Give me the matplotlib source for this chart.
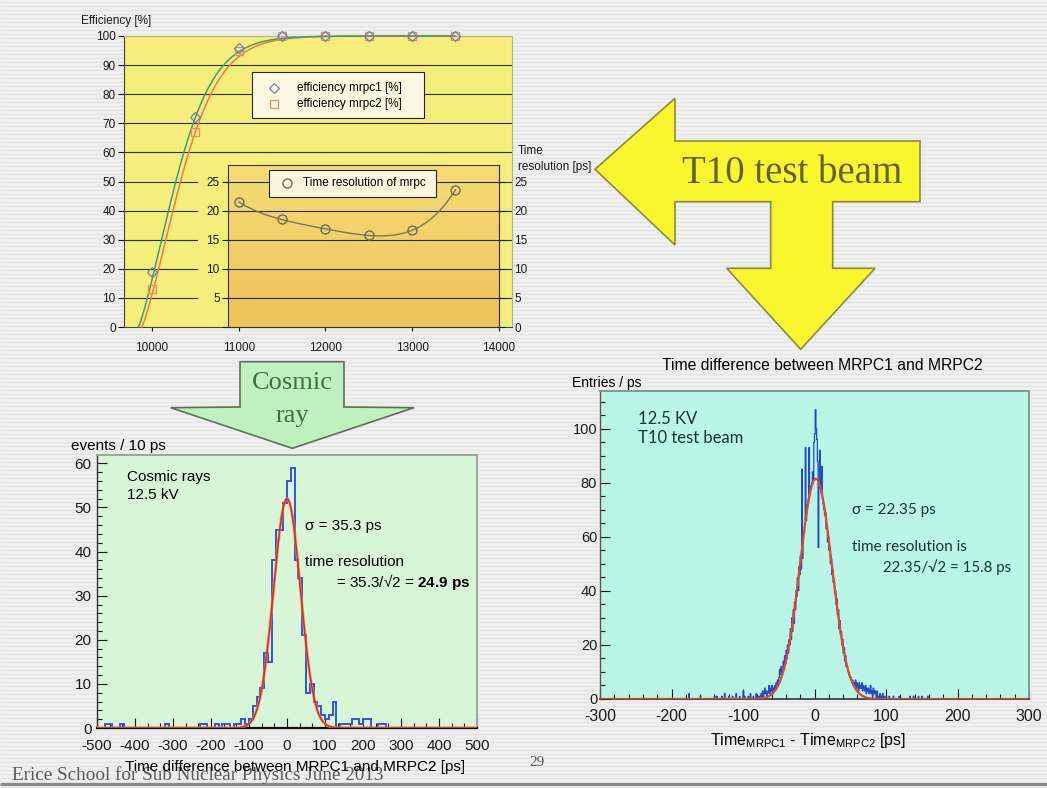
import numpy as np
import matplotlib
matplotlib.use("Agg")
import matplotlib.pyplot as plt
from matplotlib.patches import Polygon, Rectangle
from matplotlib.colors import LinearSegmentedColormap
from matplotlib.ticker import MultipleLocator
from numpy.polynomial import Polynomial

plt.rcParams["font.family"] = ["Liberation Sans", "DejaVu Sans"]
plt.rcParams["axes.unicode_minus"] = False
plt.rcParams["mathtext.fontset"] = "custom"
plt.rcParams["mathtext.rm"] = "Liberation Sans"
plt.rcParams["mathtext.bf"] = "Liberation Sans:bold"
plt.rcParams["mathtext.it"] = "Liberation Sans:italic"

# ---- HV scan at T10: efficiency and time resolution ----
HV = [10000, 10500, 11000, 11500, 12000, 12500, 13000, 13500]
EFF_MRPC1 = [19, 72, 96, 100, 100, 100, 100, 100]
EFF_MRPC2 = [13, 67, 95, 100, 100, 100, 100, 100]
# turn-on fits: eff = 100 * tanh(((HV - v0) / lam) ** k)
FIT_MRPC1 = (9842, 713, 1.2)
FIT_MRPC2 = (9881, 737, 1.2)
HV_RES = [11000, 11500, 12000, 12500, 13000, 13500]
TIME_RES = [21.5, 18.5, 16.8, 15.8, 16.6, 23.6]

# ---- cosmic rays: MRPC1 - MRPC2, 10 ps bins from -500 to 500 ----
COSMIC_EDGES = np.arange(-500, 501, 10)
COSMIC_COUNTS = [
    0, 0, 1, 1, 0, 0, 1, 0, 0, 0,
    0, 0, 0, 0, 0, 0, 0, 0, 1, 0,
    0, 0, 0, 0, 0, 0, 0, 1, 1, 0,
    0, 1, 0, 1, 1, 0, 1, 1, 2, 1,
    2, 5, 7, 9, 17, 15, 38, 45, 45, 51,
    56, 59, 38, 34, 21, 8, 10, 6, 5, 3,
    2, 3, 6, 0, 1, 1, 1, 2, 2, 1,
    2, 2, 0, 0, 1, 1, 0, 0, 0, 0,
    0, 0, 0, 0, 0, 0, 0, 0, 0, 0,
    0, 0, 0, 0, 0, 0, 0, 0, 0, 0,
]
COSMIC_FIT = (52.0, 0.0, 35.3)  # amplitude, mean, sigma [ps]

# ---- T10 beam: MRPC1 - MRPC2, 1 ps bins ----
T10_CORE_START = -75
T10_CORE = [
    2, 1, 3, 1, 2, 4, 2, 3, 1, 2,
    3, 5, 2, 4, 3, 5, 2, 4, 3, 5,
    4, 6, 5, 7, 6, 8, 11, 9, 12, 10,
    10, 14, 11, 16, 13, 18, 15, 20, 17, 22,
    20, 26, 22, 30, 25, 33, 28, 36, 33, 40,
    38, 45, 40, 49, 46, 53, 48, 85, 52, 61,
    61, 65, 93, 66, 70, 72, 74, 93, 76, 78,
    79, 80, 84, 81, 95, 98, 107, 100, 96, 88,
    56, 78, 92, 80, 76, 86, 74, 72, 70, 68,
    69, 63, 64, 58, 60, 55, 56, 50, 52, 46,
    48, 43, 44, 39, 40, 35, 37, 31, 33, 26,
    29, 24, 25, 20, 22, 17, 19, 14, 16, 12,
    12, 11, 10, 9, 8, 8, 7, 6, 7, 5,
    6, 5, 7, 4, 6, 5, 3, 6, 4, 5,
    4, 6, 3, 5, 4, 3, 5, 2, 4, 3,
    4, 2, 3, 5, 2, 3, 1, 4, 2, 3,
]
T10_TAIL_LO = [-176, -160, -140, -137, -130, -126, -120, -115, -110, -105,
               -100, -98, -93, -90, -86, -82, -79, -77,
               85, 87, 89, 91, 93, 95, 97, 100, 104, 110, 118, 133, 138, 145, 150, 158]
T10_TAIL_N = [2, 1, 1, 1, 1, 2, 1, 1, 2, 1, 3, 1, 1, 2, 1, 2, 1, 1,
              2, 3, 1, 2, 1, 2, 1, 1, 1, 1, 1, 1, 1, 1, 1, 1]
T10_FIT = (81.5, 2.0, 22.35)


def gauss(x, amp, mu, sig):
    return amp * np.exp(-0.5 * ((x - mu) / sig) ** 2)


def turn_on(v, v0, lam, k):
    return 100 * np.tanh(np.clip((v - v0) / lam, 0, None) ** k)


W, H = 1047, 788
SLIDE = "#efefef"
fig = plt.figure(figsize=(W / 100, H / 100), dpi=100, facecolor=SLIDE)


def px(l, t, r, b):
    # axes rectangle from pixel edges (origin top-left)
    return [l / W, 1 - b / H, (r - l) / W, (b - t) / H]


bg = fig.add_axes([0, 0, 1, 1], zorder=0)
bg.set_xlim(0, W); bg.set_ylim(H, 0); bg.axis("off")
bg.hlines(np.arange(2, H, 4), 0, W, color="#e5e5e5", lw=0.8)
bg.hlines([784], 0, W, color="#8a8a8a", lw=2.2)

ov = fig.add_axes([0, 0, 1, 1], zorder=10)
ov.set_xlim(0, W); ov.set_ylim(H, 0); ov.axis("off")

# ================= efficiency vs HV =================
YEL = "#f6ee7a"
C1, C2 = "#6f7fb0", "#e98a6a"
L1, L2 = "#3e9d78", "#ef7c40"
X0, X1 = 9677, 14152

ax = fig.add_axes(px(124, 36, 512, 327), zorder=2)
ax.set_facecolor(YEL)
ax.set_xlim(X0, X1); ax.set_ylim(0, 100)
ax.set_xticks(range(10000, 14001, 1000))
ax.set_yticks(range(0, 101, 10))
ax.tick_params(labelsize=8.5, width=0.8, colors="#1a1a1a")
ax.tick_params(axis="x", length=3, pad=8)
ax.tick_params(axis="y", length=4, pad=2)
ax.hlines(range(10, 100, 10), X0, X1, color="#2b2b2b", lw=0.8, zorder=1)
ax.add_patch(Rectangle((10531, 0), 10877 - 10531, 55.7, fc=YEL, ec="none", zorder=1.5))
for s in ("top", "right"):
    ax.spines[s].set_color("#b3b08e")
for s in ("left", "bottom"):
    ax.spines[s].set_color("#444")
    ax.spines[s].set_linewidth(0.8)

for fit, col in ((FIT_MRPC2, L2), (FIT_MRPC1, L1)):
    v = np.linspace(fit[0], 13500, 500)
    ax.plot(v, turn_on(v, *fit), color=col, lw=1.1, zorder=3, clip_on=False)
ax.plot(HV, EFF_MRPC2, ls="none", marker="s", ms=5.8, mfc="none", mec=C2, mew=0.9,
        zorder=4, clip_on=False)
ax.plot(HV, EFF_MRPC1, ls="none", marker="D", ms=4.6, mfc="none", mec=C1, mew=0.9,
        zorder=5, clip_on=False)

# inset: time resolution vs HV
RMAX = 27.85
axi = fig.add_axes(px(228, 165, 498.8, 327), zorder=3)
grad = LinearSegmentedColormap.from_list("inset", ["#eec35a", "#f5dc74"])
axi.imshow(np.linspace(0, 1, 64)[:, None], extent=(10877, 14000, 0, RMAX),
           origin="lower", aspect="auto", cmap=grad, zorder=0)
axi.set_xlim(10877, 14000); axi.set_ylim(0, RMAX)
axi.hlines(range(5, 26, 5), 10877, 14000, color="#2b2b2b", lw=0.8, zorder=1)
axi.set_xticks([])
axi.set_yticks(range(0, 26, 5))
axi.tick_params(axis="y", labelsize=8.5, length=4, width=0.8, pad=2, colors="#1a1a1a")
axi.yaxis.get_major_ticks()[0].label1.set_visible(False)
res_right = axi.secondary_yaxis("right")
res_right.set_yticks(range(0, 26, 5))
res_right.tick_params(labelsize=8.5, length=4, width=0.8, pad=7, colors="#1a1a1a")
res_right.spines["right"].set_color("#333")
res_right.spines["right"].set_linewidth(0.8)
for s in axi.spines.values():
    s.set_color("#333"); s.set_linewidth(0.8)
fit_res = Polynomial.fit(HV_RES, TIME_RES, 4)
v = np.linspace(11000, 13500, 300)
axi.plot(v, fit_res(v), color="#7a7758", lw=1.0, zorder=2)
axi.plot(HV_RES, TIME_RES, ls="none", marker="o", ms=6.5, mfc="none", mec="#6d6b5e",
         mew=1.0, zorder=3, clip_on=False)

ov.text(81, 20.5, "Efficiency [%]", fontsize=8.5, va="center", color="#1a1a1a")
ov.text(518, 151, "Time", fontsize=8.5, va="center", color="#1a1a1a")
ov.text(518, 167, "resolution [ps]", fontsize=8.5, va="center", color="#1a1a1a")

# legends
ov.add_patch(Rectangle((252, 72), 172, 46, fc="#fcf9e2", ec="#222", lw=0.8))
ov.plot([274], [87.5], ls="none", marker="D", ms=4.6, mfc="none", mec=C1, mew=0.9)
ov.plot([274], [103.5], ls="none", marker="s", ms=5.8, mfc="none", mec=C2, mew=0.9)
ov.text(297, 87.5, "efficiency mrpc1 [%]", fontsize=8.5, va="center")
ov.text(297, 103.5, "efficiency mrpc2 [%]", fontsize=8.5, va="center")
ov.add_patch(Rectangle((269, 169.5), 167, 27, fc="#fcf6dc", ec="#222", lw=0.8))
ov.plot([287], [183], ls="none", marker="o", ms=6.5, mfc="none", mec="#6d6b5e", mew=1.0)
ov.text(303, 183, "Time resolution of mrpc", fontsize=8.5, va="center")

# ================= arrows =================
T10_ARROW = [(595, 169.3), (675, 98.3), (675, 141), (920, 141), (920, 201.7),
             (832.7, 201.7), (832.7, 268.3), (875, 268.3), (800.7, 349.3),
             (726.7, 268.3), (770.7, 268.3), (770.7, 201.7), (675, 201.7), (675, 245)]
ov.add_patch(Polygon(T10_ARROW, closed=True, fc="#f9f62e", ec="#8d8a3e", lw=1.2,
                     joinstyle="miter"))
ov.text(792, 173, "T10 test beam", family="Liberation Serif", fontsize=28,
        color="#66612a", ha="center", va="center")

COSMIC_ARROW = [(240, 361.7), (344, 361.7), (344, 407), (414, 407.7), (292.3, 448.3),
                (170.7, 407.7), (240, 407)]
ov.add_patch(Polygon(COSMIC_ARROW, closed=True, fc="#bff2bf", ec="#5f6f58", lw=1.2,
                     joinstyle="miter"))
ov.text(292.3, 383, "Cosmic", family="Liberation Serif", fontsize=19,
        color="#3f7048", ha="center", va="center")
ov.text(292.3, 416, "ray", family="Liberation Serif", fontsize=19,
        color="#3f7048", ha="center", va="center")

# ================= cosmic-ray histogram =================
axc = fig.add_axes(px(97, 455, 477, 728), zorder=2)
axc.set_facecolor("#d7f5d7")
axc.set_xlim(-500, 500); axc.set_ylim(0, 61.9)
axc.stairs(COSMIC_COUNTS, COSMIC_EDGES, color="#2f55e0", lw=1.4, zorder=3)
xs = np.linspace(-500, 500, 1001)
axc.plot(xs, gauss(xs, *COSMIC_FIT), color="#f08a3c", lw=2.2, zorder=4, alpha=0.7)
axc.plot(xs, gauss(xs, *COSMIC_FIT), color="#e0262a", lw=1.1, zorder=5)
axc.xaxis.set_major_locator(MultipleLocator(100))
axc.xaxis.set_minor_locator(MultipleLocator(100 / 3))
axc.yaxis.set_major_locator(MultipleLocator(10))
axc.yaxis.set_minor_locator(MultipleLocator(2))
axc.tick_params(which="both", direction="in", labelsize=11, colors="#1a1a1a", width=0.8)
axc.tick_params(which="major", length=7)
axc.tick_params(which="minor", length=3.5)
axc.tick_params(axis="x", pad=8)
axc.tick_params(axis="y", pad=4)
for s in ("top", "right"):
    axc.spines[s].set_color("#98a898"); axc.spines[s].set_linewidth(1.4)
axc.spines["bottom"].set_color("#111"); axc.spines["bottom"].set_linewidth(1.6)
axc.spines["left"].set_color("#333"); axc.spines["left"].set_linewidth(1.0)

ov.text(71, 446, "events / 10 ps", fontsize=11, va="center")
ov.text(127, 477, "Cosmic rays", fontsize=11, va="center")
ov.text(127, 495, "12.5 kV", fontsize=11, va="center")
ov.text(305, 526, "σ = 35.3 ps", fontsize=11, va="center")
ov.text(305, 562, "time resolution", fontsize=11, va="center")
ov.text(336, 582, "= 35.3/√2 = $\\mathbf{24.9\\ ps}$", fontsize=11, va="center")
ov.text(295, 767, "Time difference between MRPC1 and MRPC2 [ps]", fontsize=11,
        ha="center", va="center", zorder=3)

# ================= T10 beam histogram =================
T10_EDGES = np.arange(-300, 301, 1)
t10 = np.zeros(len(T10_EDGES) - 1)
i0 = T10_CORE_START + 300
t10[i0:i0 + len(T10_CORE)] = T10_CORE
for lo, n in zip(T10_TAIL_LO, T10_TAIL_N):
    t10[lo + 300] = n

axr = fig.add_axes(px(600, 391, 1029, 699), zorder=2)
axr.set_facecolor("#b9f6e5")
axr.set_xlim(-300, 300); axr.set_ylim(0, 113.9)
axr.stairs(t10, T10_EDGES, color="#2449c8", lw=0.9, zorder=3)
xs = np.linspace(-300, 300, 1201)
axr.plot(xs, gauss(xs, *T10_FIT), color="#e4452c", lw=1.6, zorder=4)
axr.xaxis.set_major_locator(MultipleLocator(100))
axr.xaxis.set_minor_locator(MultipleLocator(20))
axr.yaxis.set_major_locator(MultipleLocator(20))
axr.yaxis.set_minor_locator(MultipleLocator(5))
axr.tick_params(which="both", direction="in", colors="#1a1a1a", width=0.8)
axr.tick_params(which="major", length=7)
axr.tick_params(which="minor", length=3.5)
axr.tick_params(axis="x", labelsize=11.5, pad=7.5)
axr.tick_params(axis="y", labelsize=10.5, pad=2)
for s in ("top", "right"):
    axr.spines[s].set_color("#7c9a91"); axr.spines[s].set_linewidth(1.4)
axr.spines["bottom"].set_color("#333"); axr.spines["bottom"].set_linewidth(1.2)
axr.spines["left"].set_color("#555"); axr.spines["left"].set_linewidth(1.0)

ov.text(822, 365, "Time difference between MRPC1 and MRPC2", fontsize=11.3,
        ha="center", va="center")
ov.text(572, 383, "Entries / ps", fontsize=10, va="center")
TXT = "#15382b"
LATO = ["Lato", "DejaVu Sans"]
ov.text(638, 419, "12.5 KV", family=LATO, fontsize=12, color=TXT, va="center")
ov.text(638, 438, "T10 test beam", family=LATO, fontsize=12, color=TXT, va="center")
ov.text(852, 510, "σ = 22.35 ps", family=LATO, fontsize=11, color=TXT, va="center")
ov.text(852, 547, "time resolution is", family=LATO, fontsize=11, color=TXT, va="center")
ov.text(883, 567, "22.35/√2 = 15.8 ps", family=LATO, fontsize=10.8, color=TXT, va="center")
ov.text(808, 741, "Time$_\\mathrm{MRPC1}$ - Time$_\\mathrm{MRPC2}$ [ps]", fontsize=11.5,
        ha="center", va="center")

# footer
ov.text(12, 775, "Erice School for Sub Nuclear Physics June 2013", family="Liberation Serif",
        fontsize=13.8, color="#5a5a5a", va="center", zorder=1)
ov.text(529, 762, "29", family="Liberation Serif", fontsize=11, color="#5a5a5a", va="center")

fig.savefig("out.png", dpi=100, facecolor=SLIDE)
